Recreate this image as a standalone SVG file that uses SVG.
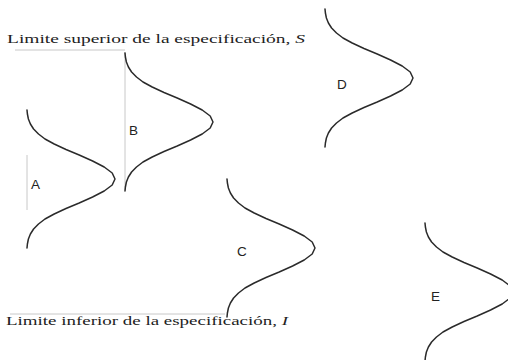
<svg xmlns="http://www.w3.org/2000/svg" width="508" height="360" viewBox="0 0 508 360">
<style>
.curve{fill:none;stroke:#2a2a2a;stroke-width:1.5;stroke-linejoin:round;stroke-linecap:round}
.axis{stroke:#c8c8c8;stroke-width:1;fill:none}
.lim{font-family:"Liberation Serif","Times New Roman",serif;font-size:12.5px;fill:#222}
.lbl{font-family:"Liberation Sans",Arial,sans-serif;font-size:13.5px;fill:#222}
</style>
<defs>
<path id="bell" d="M0,0 L0.4,4 L1.4,9 L3.4,14 L6.6,19 L11.5,24 L18,29 L27.2,34 L39,39.5 L52.2,45 L65.6,51 L77.2,57 L85.2,63 L88,69 L85.2,75 L77.2,81 L65.6,87 L52.2,93 L39,98.5 L27.2,104 L18,109 L11.5,114 L6.6,119 L3.4,124 L1.4,129 L0.4,134 L0,138"/>
</defs>
<g id="limits">
<line class="axis" x1="15" y1="50" x2="125" y2="50"/>
<text class="lim" x="7" y="43" textLength="298" lengthAdjust="spacingAndGlyphs">Limite superior de la especificación, <tspan font-style="italic">S</tspan></text>
<line class="axis" x1="10" y1="314" x2="225" y2="314"/>
<text class="lim" x="6" y="325" textLength="282" lengthAdjust="spacingAndGlyphs">Limite inferior de la especificación, <tspan font-style="italic">I</tspan></text>
</g>
<g id="A">
<line class="axis" x1="27" y1="155" x2="27" y2="210"/>
<use href="#bell" class="curve" transform="translate(27,110)"/>
<text class="lbl" x="31" y="189">A</text>
</g>
<g id="B">
<line class="axis" x1="125" y1="52" x2="125" y2="190"/>
<use href="#bell" class="curve" transform="translate(125,53)"/>
<text class="lbl" x="129" y="135">B</text>
</g>
<g id="C">
<use href="#bell" class="curve" transform="translate(227,179)"/>
<text class="lbl" x="237" y="256">C</text>
</g>
<g id="D">
<use href="#bell" class="curve" transform="translate(325,9)"/>
<text class="lbl" x="337" y="89">D</text>
</g>
<g id="E">
<use href="#bell" class="curve" transform="translate(425,223)"/>
<text class="lbl" x="431" y="301">E</text>
</g>
</svg>
